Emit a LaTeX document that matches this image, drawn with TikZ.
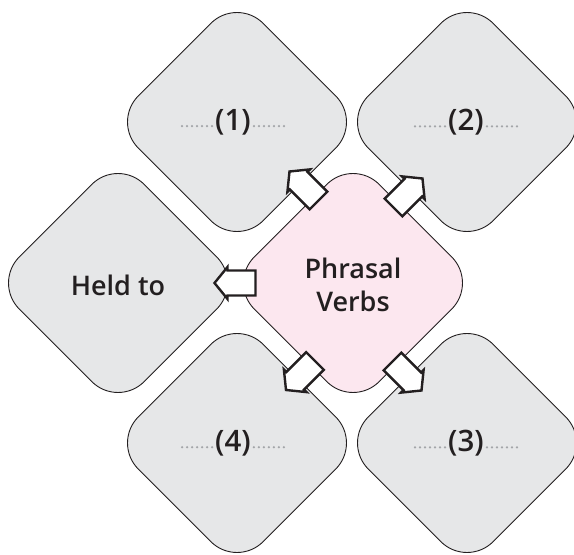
\documentclass[tikz,border=0pt]{standalone}
\usepackage{fontspec}
\IfFontExistsTF{Open Sans SemiBold}{\setmainfont{Open Sans SemiBold}}{%
  \IfFontExistsTF{Open Sans Semibold}{\setmainfont{Open Sans Semibold}}{%
    \setmainfont{Open Sans}[FakeBold=1.6]}}
\usetikzlibrary{shapes.geometric}
\definecolor{boxgray}{HTML}{E6E7E8}
\definecolor{boxpink}{HTML}{FCE7EF}
\definecolor{ink}{HTML}{231F20}
\definecolor{dotgray}{HTML}{A3A5A8}
\begin{document}
\begin{tikzpicture}[x=1pt,y=1pt,
  dia/.style={diamond, aspect=1, draw=ink, line width=0.9pt, rounded corners=37pt,
    minimum width=250pt, minimum height=250pt, inner sep=0pt, fill=boxgray},
  lbl/.style={text=ink, font=\fontsize{27}{33}\selectfont, align=center, inner sep=0pt},
  num/.style={text=ink, font=\fontsize{29.5}{33}\selectfont, inner sep=0pt},
  blk/.style={draw=ink, fill=white, line width=2.4pt, miter limit=10},
  dots/.style={dotgray, line width=2.5pt, line cap=round, dash pattern=on 0pt off 5pt}]
\useasboundingbox (0,0) rectangle (574,555);
% diamonds
\node[dia] (n1) at (237,433) {};
\node[dia] (n2) at (467,433) {};
\node[dia] (held) at (118,272) {};
\node[dia] (n4) at (237,112) {};
\node[dia] (n3) at (467,112) {};
\node[dia, fill=boxpink] (pv) at (353,272) {};
% labels
\node[lbl] (tpv) at ([yshift=-2pt]pv.center) {Phrasal\\Verbs};
\node[lbl] (theld) at ([yshift=-2pt]held.center) {Held to};
\node[num] (t1) at ([xshift=-4pt]n1.center) {(1)};
\node[num] (t2) at ([xshift=-1pt]n2.center) {(2)};
\node[num] (t3) at ([xshift=-1pt]n3.center) {(3)};
\node[num] (t4) at ([xshift=-4pt]n4.center) {(4)};
\foreach \t in {t1,t2,t3,t4}{
  \draw[dots] ([xshift=-3pt,yshift=4pt]\t.base west) -- ++(-30,0);
  \draw[dots] ([xshift=3pt,yshift=4pt]\t.base east) -- ++(30,0);
}
% block arrows
\coordinate (aL) at (235,272);
\coordinate (a1) at (304,369);
\coordinate (a2) at (408,362);
\coordinate (a4) at (300.5,179.5);
\coordinate (a3) at (407,179);
\foreach \c/\ang in {aL/180,a1/135,a2/45,a4/225,a3/315}{
  \draw[blk, shift={(\c)}, rotate=\ang]
    (-20.5,-12.5) -- (7.5,-12.5) -- (7.5,-16) -- (20.5,0) -- (7.5,16) -- (7.5,12.5) -- (-20.5,12.5) -- cycle;
}
\end{tikzpicture}
\end{document}
